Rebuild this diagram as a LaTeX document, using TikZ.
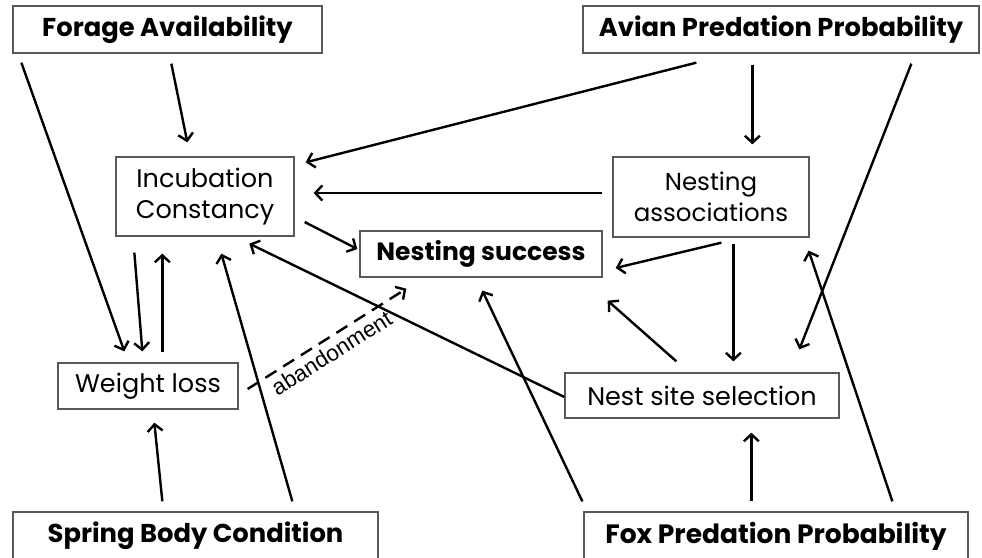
\documentclass[tikz,border=0pt]{standalone}
\usepackage{fontspec}
\setmainfont{Poppins}
\newfontfamily\labfont{Liberation Sans}
\usetikzlibrary{arrows.meta,calc}
\begin{document}
\begin{tikzpicture}[x=1pt,y=-1pt,
  box/.style={draw=black!65, line width=1.3pt, inner sep=0pt, align=center, font=\fontsize{25.5}{31}\selectfont},
  bigbox/.style={box, font=\fontsize{25.8}{30}\selectfont\bfseries},
  arr/.style={line width=2.4pt, -{Straight Barb[length=7pt,width=15pt]}},
  dasharr/.style={arr, dash pattern=on 13pt off 8pt},
]
\useasboundingbox (0,0) rectangle (982,557);
\fill[white] (0,0) rectangle (982,557);
\clip (0,0) rectangle (982,557);
% nodes
\node[bigbox, minimum width=309pt, minimum height=47pt] (forage) at (167.5,29.5) {Forage Availability};
\node[bigbox, minimum width=396pt, minimum height=47pt] (avian) at (781,29.5) {Avian Predation Probability};
\node[box, minimum width=178pt, minimum height=79pt] (incub) at (205,196.5) {Incubation\\Constancy};
\node[bigbox, minimum width=242pt, minimum height=46pt, font=\fontsize{25}{30}\selectfont\bfseries] (success) at (481,254) {Nesting success};
\node[box, minimum width=196pt, minimum height=80pt, font=\fontsize{24.5}{31}\selectfont] (assoc) at (711,197) {Nesting\\associations};
\node[box, minimum width=180pt, minimum height=46pt] (weight) at (148,386) {Weight loss};
\node[box, minimum width=274pt, minimum height=45pt] (site) at (702,395.5) {Nest site selection};
\node[bigbox, minimum width=365pt, minimum height=48pt] (spring) at (195.5,536) {Spring Body Condition};
\node[bigbox, minimum width=384pt, minimum height=48pt, font=\fontsize{26.5}{30}\selectfont\bfseries] (fox) at (776,536) {Fox Predation Probability};
% connectors
\draw[arr] ($(forage.south west)+(9,9)$) -- ($(weight.north west)+(67,-11)$);
\draw[arr] ($(incub.south west)+(19,16)$) -- ($(weight.north west)+(85,-11)$);
\draw[arr] ($(weight.north west)+(105,-10)$) -- ($(incub.south west)+(47,17)$);
\draw[arr] ($(forage.south west)+(159,10)$) -- ($(incub.north west)+(72,-14)$);
\draw[arr] ($(avian.south west)+(114,9)$) -- ($(incub.north east)+(11,6)$);
\draw[arr] ($(avian.south west)+(170,11)$) -- ($(assoc.north west)+(140,-12)$);
\draw[arr] ($(avian.south west)+(329,10)$) -- ($(site.north west)+(235,-23)$);
\draw[arr] ($(assoc.west)+(-10,-4)$) -- ($(incub.east)+(19,-3.5)$);
\draw[arr] ($(incub.east)+(10,25.5)$) -- ($(success.west)+(-2,-5)$);
\draw[arr] ($(assoc.south west)+(109,5)$) -- ($(success.east)+(13,14)$);
\draw[arr] ($(assoc.south west)+(121,6)$) -- ($(site.north west)+(169,-11)$);
\draw[arr] ($(site.west)+(0,1.5)$) -- ($(incub.south west)+(134,7)$);
\draw[arr] ($(site.north west)+(112,-11)$) -- ($(success.south east)+(5,23)$);
\draw[arr] ($(fox.north west)+(-1,-10)$) -- ($(success.south west)+(123,13)$);
\draw[arr] ($(fox.north west)+(168,-10)$) -- ($(site.south west)+(187,14)$);
\draw[arr] ($(fox.north west)+(309,-10)$) -- ($(assoc.south east)+(-1,13)$);
\draw[arr] ($(spring.north west)+(150,-10)$) -- ($(weight.south west)+(97,13)$);
\draw[arr] ($(spring.north west)+(280,-10)$) -- ($(incub.south west)+(106,17)$);
\draw[dasharr] ($(weight.east)+(9,3)$) -- ($(success.south west)+(47,11)$)
  node[pos=0.48, sloped, below=4pt, inner sep=1pt, font=\labfont\fontsize{22.5}{24}\selectfont] (aband) {abandonment};
\end{tikzpicture}
\end{document}
